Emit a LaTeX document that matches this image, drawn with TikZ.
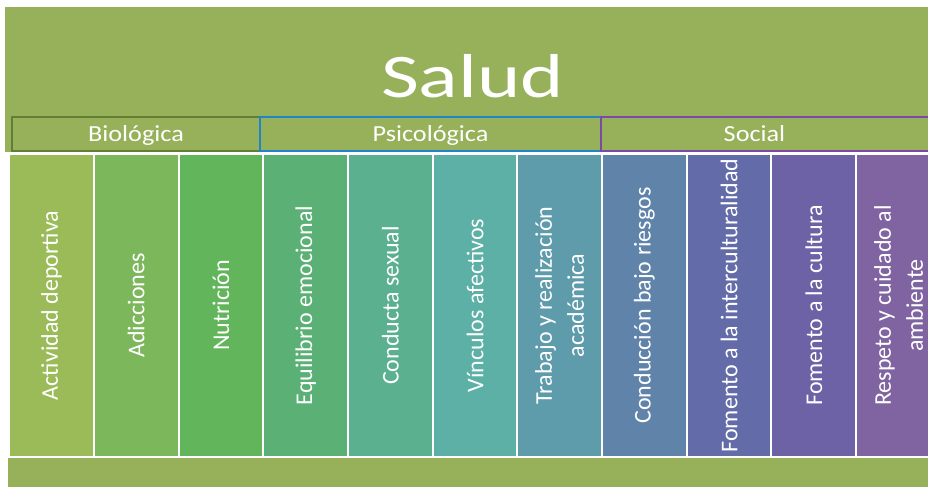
\documentclass[tikz,border=0pt]{standalone}
\usepackage{fontspec}
\setmainfont{Carlito}
\usepackage{xcolor}
\usetikzlibrary{positioning}
\definecolor{bggreen}{RGB}{150,177,89}
\definecolor{biofrm}{RGB}{98,126,52}
\definecolor{psifrm}{RGB}{34,132,200}
\definecolor{socfrm}{RGB}{122,74,166}
\definecolor{ca}{RGB}{155,187,89}
\definecolor{cb}{RGB}{125,183,92}
\definecolor{cc}{RGB}{98,181,91}
\definecolor{cd}{RGB}{91,177,117}
\definecolor{ce}{RGB}{91,176,143}
\definecolor{cf}{RGB}{92,176,166}
\definecolor{cg}{RGB}{94,155,171}
\definecolor{ch}{RGB}{96,131,170}
\definecolor{ci}{RGB}{99,108,168}
\definecolor{cj}{RGB}{109,98,166}
\definecolor{ck}{RGB}{128,100,162}
\newcommand{\wide}[2]{\scalebox{#1}[1]{#2}}
\begin{document}
\begin{tikzpicture}[
  x=1pt, y=-1pt,
  title/.style={text=white, font=\fontsize{62}{70}\selectfont, inner sep=0pt, text height=40pt, text depth=0pt},
  dimbox/.style={draw, line width=1.5pt, minimum height=34pt, outer sep=0pt, text=white, text height=15pt, text depth=0pt, font=\fontsize{23}{28}\selectfont},
  colbox/.style={draw=white, line width=2pt, rotate=90, minimum width=303pt, minimum height=84.7pt, outer sep=0pt, inner sep=2pt, align=center, text=white, font=\fontsize{24}{32}\selectfont}
]
\useasboundingbox (0,0) rectangle (928,487);
\clip (0,0) rectangle (928,487);
% background bands
\fill[bggreen] (5,7) rectangle (935,152);
\fill[bggreen] (8,457) rectangle (935,487);
\node[title] (salud) at (472.5,77) {\wide{1.33}{Salud}};
% dimensions
\node[dimbox, draw=biofrm, minimum width=248pt] (bio) at (136,134) {\wide{1.14}{Biológica}};
\node[dimbox, draw=psifrm, minimum width=341pt, right=0pt of bio] (psi) {\wide{1.14}{Psicológica}};
\node[dimbox, draw=socfrm, minimum width=334pt, right=0pt of psi] (soc) {\hspace*{-27pt}\wide{1.14}{Social}};
% items
\node[colbox, fill=ca] (act) at (51.5,305.5) {Actividad deportiva};
\node[colbox, fill=cb] (adi) at (136.2,305.5) {Adicciones};
\node[colbox, fill=cc] (nut) at (220.9,305.5) {Nutrición};
\node[colbox, fill=cd] (equ) at (305.6,305.5) {Equilibrio emocional};
\node[colbox, fill=ce] (con) at (390.3,305.5) {Conducta sexual};
\node[colbox, fill=cf] (vin) at (475.0,305.5) {Vínculos afectivos};
\node[colbox, fill=cg] (tra) at (559.7,305.5) {Trabajo y realización\\académica};
\node[colbox, fill=ch] (cbr) at (644.4,305.5) {Conducción bajo riesgos};
\node[colbox, fill=ci] (int) at (729.1,305.5) {Fomento a la interculturalidad};
\node[colbox, fill=cj] (cul) at (813.8,305.5) {Fomento a la cultura};
\node[colbox, fill=ck] (amb) at (898.5,305.5) {Respeto y cuidado al\\ambiente};
\end{tikzpicture}
\end{document}
